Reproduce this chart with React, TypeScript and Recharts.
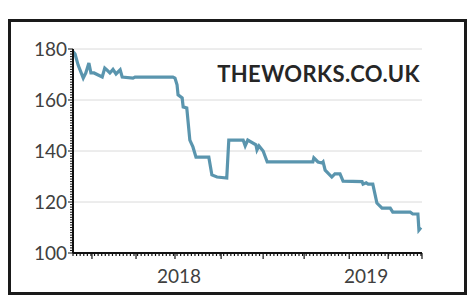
import React from "react";
import { LineChart, Line, XAxis, YAxis, ReferenceLine } from "recharts";

// days since start of the series (start ~ June 2017), closing price in pence
const days = [
  0, 4, 10, 20, 25, 31, 35, 41, 57, 62, 66, 72, 78, 84, 92, 96, 117, 121, 195, 199,
  203, 205, 213, 215, 222, 228, 234, 240, 265, 271, 281, 300, 304, 332, 336, 341, 357,
  359, 363, 371, 379, 468, 470, 478, 486, 488, 492, 505, 511, 521, 527, 564, 566, 572,
  576, 585, 593, 603, 619, 624, 658, 663, 673, 675, 679
];
const prices = [
  179, 178, 173.7, 168.6, 170.6, 174.5, 170.6, 170.6, 169, 172.5, 171.8, 170.6, 172,
  170.2, 171.8, 169, 168.6, 169, 169, 168.6, 166, 162, 160.8, 157.3, 156.9, 144.3,
  141.6, 137.6, 137.6, 130.6, 129.8, 129.4, 144.3, 144.3, 142, 144.3, 142.4, 140.4,
  142, 140, 135.7, 135.7, 137.3, 135.7, 135.3, 135.7, 132.5, 129.8, 131, 131, 128.2,
  128, 127, 127.5, 127, 127, 119.6, 117.6, 117.6, 116, 116, 115.3, 115.3, 109, 110
];

const yearTicks = [207, 572];
const yearLabels = ["2018", "2019"];
const majorXTicks = [37, 123, 199, 289, 371, 451, 539, 615, 681];
const minorXTicks: number[] = [];
for (let d = 0; d <= 681; d += 7) minorXTicks.push(d);

const yMajorTicks = [100, 120, 140, 160, 180];
const yTicks: number[] = [];
for (let v = 100; v <= 180; v += 1) yTicks.push(v);

const data = days.map((d, i) => ({ day: d, price: prices[i] }));
const xTicks = Array.from(new Set([...minorXTicks, ...majorXTicks, ...yearTicks])).sort((a, b) => a - b);

const labelColor = "#404040";
const font = "Lato, 'Open Sans', sans-serif";

const XTick = (props: any) => {
  const { x, y, payload } = props;
  const v = payload.value;
  const yi = yearTicks.indexOf(v);
  if (yi >= 0) {
    return (
      <text x={x} y={y + 30} textAnchor="middle" fontSize={19} fill={labelColor} fontFamily={font}>
        {yearLabels[yi]}
      </text>
    );
  }
  const major = majorXTicks.includes(v);
  return <line x1={x} x2={x} y1={y} y2={y + (major ? 6 : 3)} stroke="#111" strokeWidth={1.2} />;
};

const YTick = (props: any) => {
  const { x, y, payload } = props;
  const v = payload.value;
  const major = yMajorTicks.includes(v);
  return (
    <g>
      <line x1={x} x2={x - (major ? 5 : 3)} y1={y} y2={y} stroke="#111" strokeWidth={1} />
      {major && (
        <text x={x - 6} y={y} dy="0.35em" textAnchor="end" fontSize={19} fill={labelColor} fontFamily={font}>
          {v}
        </text>
      )}
    </g>
  );
};

export default function App() {
  return (
    <div
      style={{
        marginTop: 11,
        width: 459,
        height: 276,
        border: "3px solid #1a1a1a",
        boxSizing: "border-box",
        position: "relative",
        background: "#fff"
      }}
    >
      <LineChart width={453} height={270} data={data} margin={{ top: 27, right: 42, bottom: 0, left: 0 }}>
        <XAxis
          dataKey="day"
          type="number"
          domain={[0, 681]}
          ticks={xTicks}
          interval={0}
          tick={<XTick />}
          tickLine={false}
          tickSize={0}
          tickMargin={0}
          height={39}
          axisLine={{ stroke: "#111", strokeWidth: 2 }}
        />
        <YAxis
          type="number"
          domain={[100, 180]}
          ticks={yTicks}
          interval={0}
          tick={<YTick />}
          tickLine={false}
          tickSize={0}
          tickMargin={0}
          width={62}
          axisLine={{ stroke: "#111", strokeWidth: 2 }}
        />
        {yMajorTicks.slice(1).map((v) => (
          <ReferenceLine key={v} y={v} stroke="#dadada" strokeWidth={1} />
        ))}
        <Line
          dataKey="price"
          type="linear"
          stroke="#5a95ae"
          strokeWidth={3.2}
          dot={false}
          isAnimationActive={false}
        />
      </LineChart>
      <div
        style={{
          position: "absolute",
          left: 200,
          top: 39,
          width: 209,
          textAlign: "right",
          fontFamily: font,
          fontWeight: 700,
          fontSize: 22,
          letterSpacing: 0.4,
          lineHeight: "26px",
          color: "#262626",
          whiteSpace: "nowrap"
        }}
      >
        THEWORKS.CO.UK
      </div>
    </div>
  );
}
